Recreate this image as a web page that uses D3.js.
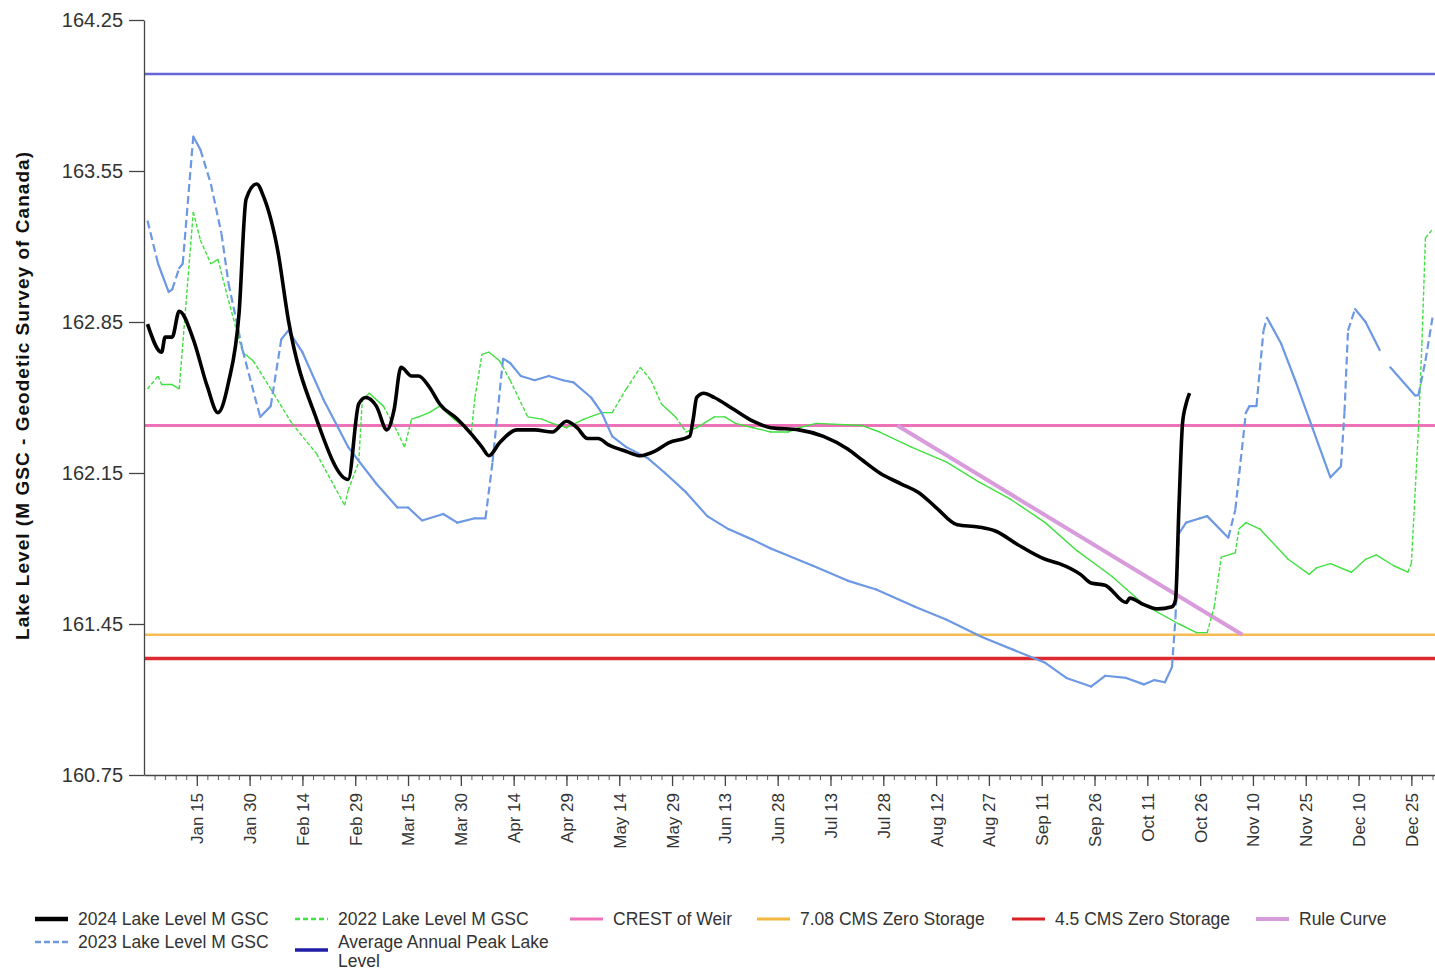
<!DOCTYPE html>
<html>
<head>
<meta charset="utf-8">
<script src="https://cdn.jsdelivr.net/npm/d3@7"></script>
<style>
    body { margin: 0; background: #fff; }
    svg { font-family: "Liberation Sans", Arial, sans-serif; display: block; }
</style>
</head>
<body>
<div id="chart"></div>
<script>
// lake levels, metres GSC (MM-DD, value)
const level2024 = [
    ["01-01",162.84],["01-05",162.71],["01-06",162.78],["01-08",162.78],["01-10",162.90],["01-14",162.77],
    ["01-18",162.55],["01-21",162.43],["01-24",162.57],["01-27",162.89],["01-29",163.42],["02-01",163.49],
    ["02-03",163.43],["02-07",163.18],["02-10",162.86],["02-18",162.40],["02-27",162.12],["03-01",162.47],
    ["03-03",162.50],["03-06",162.46],["03-09",162.35],["03-11",162.44],["03-13",162.64],["03-16",162.60],
    ["03-18",162.60],["03-21",162.55],["03-24",162.47],["03-29",162.40],["04-02",162.33],["04-05",162.27],
    ["04-07",162.23],["04-10",162.29],["04-15",162.35],["04-20",162.35],["04-25",162.34],["04-29",162.39],
    ["05-02",162.36],["05-05",162.31],["05-08",162.31],["05-11",162.28],["05-16",162.25],["05-20",162.23],
    ["05-24",162.25],["05-28",162.29],["06-03",162.32],["06-04",162.40],["06-05",162.50],["06-07",162.52],
    ["06-10",162.50],["06-15",162.45],["06-21",162.39],["06-26",162.36],["07-04",162.35],["07-11",162.32],
    ["07-18",162.26],["07-22",162.21],["07-27",162.15],["08-02",162.10],["08-07",162.06],["08-12",161.99],
    ["08-18",161.91],["08-24",161.90],["08-29",161.88],["09-04",161.82],["09-12",161.75],["09-16",161.73],
    ["09-22",161.68],["09-25",161.64],["09-29",161.63],["10-05",161.55],["10-06",161.57],["10-10",161.54],
    ["10-14",161.52],["10-18",161.53],["10-19",161.56],["10-20",162.00],["10-21",162.38],["10-22",162.47],
    ["10-23",162.52]
];

const level2023 = [
    ["01-01",163.32],["01-04",163.12],["01-07",162.99],["01-08",163.00],["01-10",163.10],["01-11",163.12],
    ["01-14",163.71],["01-16",163.65],["01-19",163.49],["01-22",163.26],["01-24",163.03],["01-28",162.72],
    ["02-02",162.41],["02-05",162.46],["02-08",162.77],["02-10",162.81],["02-14",162.71],["02-20",162.49],
    ["02-27",162.27],["03-06",162.10],["03-12",161.99],["03-15",161.99],["03-19",161.93],["03-25",161.96],
    ["03-29",161.92],["04-03",161.94],["04-06",161.94],["04-08",162.20],["04-11",162.68],["04-13",162.66],
    ["04-16",162.60],["04-20",162.58],["04-24",162.60],["04-28",162.58],["05-01",162.57],["05-06",162.50],
    ["05-09",162.43],["05-12",162.32],["05-16",162.27],["05-22",162.22],["05-27",162.15],["06-02",162.06],
    ["06-08",161.95],["06-14",161.89],["06-21",161.84],["06-26",161.80],["06-29",161.78],["07-08",161.72],
    ["07-18",161.65],["07-26",161.61],["08-06",161.53],["08-15",161.47],["08-25",161.39],["09-03",161.33],
    ["09-12",161.27],["09-18",161.20],["09-25",161.16],["09-29",161.21],["10-05",161.20],["10-10",161.17],
    ["10-13",161.19],["10-16",161.18],["10-18",161.25],["10-19",161.48],["10-20",161.87],["10-22",161.92],
    ["10-26",161.94],["10-28",161.95],["11-03",161.85],["11-05",161.98],["11-08",162.43],["11-09",162.46],
    ["11-11",162.46],["11-13",162.81],["11-14",162.87],["11-18",162.75],["11-22",162.58],["11-26",162.40],
    ["12-02",162.13],["12-05",162.18],["12-06",162.43],["12-07",162.81],["12-09",162.91],["12-12",162.85],
    ["12-16",162.72],["12-17",null],["12-19",162.64],["12-26",162.51],["12-27",162.51],["12-29",162.67],
    ["12-31",162.87]
];

const level2022 = [
    ["01-01",162.54],["01-04",162.60],["01-05",162.56],["01-08",162.56],["01-10",162.54],["01-14",163.36],
    ["01-16",163.23],["01-19",163.12],["01-21",163.14],["01-24",162.95],["01-28",162.71],["01-31",162.67],
    ["02-05",162.54],["02-11",162.38],["02-18",162.24],["02-26",162.00],["02-27",162.07],["03-01",162.20],
    ["03-02",162.49],["03-04",162.52],["03-08",162.46],["03-12",162.34],["03-14",162.27],["03-16",162.40],
    ["03-18",162.41],["03-21",162.43],["03-24",162.46],["03-28",162.40],["04-02",162.34],["04-03",162.50],
    ["04-05",162.70],["04-07",162.71],["04-10",162.67],["04-13",162.58],["04-18",162.41],["04-22",162.40],
    ["04-25",162.38],["04-29",162.36],["05-04",162.40],["05-09",162.43],["05-12",162.43],["05-16",162.54],
    ["05-20",162.64],["05-23",162.58],["05-26",162.47],["05-30",162.41],["06-02",162.34],["06-05",162.36],
    ["06-06",162.37],["06-10",162.41],["06-13",162.41],["06-16",162.38],["06-21",162.36],["06-26",162.34],
    ["07-01",162.34],["07-04",162.36],["07-09",162.38],["07-22",162.37],["07-27",162.34],["08-05",162.27],
    ["08-15",162.20],["08-24",162.11],["09-02",162.03],["09-12",161.92],["09-21",161.79],["10-01",161.67],
    ["10-10",161.54],["10-20",161.45],["10-25",161.41],["10-28",161.41],["10-30",161.53],["11-01",161.76],
    ["11-05",161.78],["11-06",161.89],["11-08",161.92],["11-12",161.89],["11-20",161.75],["11-26",161.68],
    ["11-28",161.71],["12-02",161.73],["12-08",161.69],["12-12",161.75],["12-15",161.77],["12-20",161.72],
    ["12-24",161.69],["12-25",161.73],["12-27",162.35],["12-28",162.75],["12-29",163.24],["12-31",163.28]
];

const ruleCurve = [["08-01",162.37],["11-07",161.40]];
const avgAnnualPeak = 164.00;
const crestOfWeir = 162.37;
const zeroStorage708 = 161.40;
const zeroStorage45 = 161.29;

const yTicks = [160.75, 161.45, 162.15, 162.85, 163.55, 164.25];
const xTickDates = ["01-15","01-30","02-14","02-29","03-15","03-30","04-14","04-29","05-14","05-29",
    "06-13","06-28","07-13","07-28","08-12","08-27","09-11","09-26","10-11","10-26","11-10","11-25",
    "12-10","12-25"];

const legendRows = [
    [
        { name: ["2024 Lake Level M GSC"], color: "#000", width: 4.5, dash: null, col: 0 },
        { name: ["2022 Lake Level M GSC"], color: "#3fe03f", width: 2.5, dash: "5,3", col: 1 },
        { name: ["CREST of Weir"], color: "#ee72b8", width: 3, dash: null, col: 2 },
        { name: ["7.08 CMS Zero Storage"], color: "#f3b640", width: 3, dash: null, col: 3 },
        { name: ["4.5 CMS Zero Storage"], color: "#d92128", width: 3, dash: null, col: 4 },
        { name: ["Rule Curve"], color: "#d89bdb", width: 4, dash: null, col: 5 }
    ],
    [
        { name: ["2023 Lake Level M GSC"], color: "#7098da", width: 2.5, dash: "6,3", col: 0 },
        { name: ["Average Annual Peak Lake", "Level"], color: "#1c1ca6", width: 3.5, dash: null, col: 1 }
    ]
];

const W = 1435, H = 971;
const parse = s => d3.timeParse("%Y-%m-%d")("2024-" + s);
const toPts = arr => arr.map(d => ({ date: parse(d[0]), v: d[1] }));

const svg = d3.select("#chart").append("svg")
    .attr("width", W).attr("height", H);

const x = d3.scaleTime()
    .domain([new Date(2023, 11, 31), new Date(2025, 0, 1)])
    .range([144, 1436]);
const y = d3.scaleLinear()
    .domain([160.75, 164.25])
    .range([775, 20]);

svg.append("defs").append("clipPath").attr("id", "plot")
    .append("rect").attr("x", 144).attr("y", 0).attr("width", W - 144).attr("height", 775);

const plot = svg.append("g").attr("clip-path", "url(#plot)");

// horizontal reference lines
const hline = (val, color, w) => plot.append("line")
    .attr("x1", x.range()[0] + 1).attr("x2", x.range()[1])
    .attr("y1", y(val)).attr("y2", y(val))
    .attr("stroke", color).attr("stroke-width", w);

hline(avgAnnualPeak, "#6565d8", 2.5);
hline(zeroStorage708, "#f6bd55", 2.5);
hline(zeroStorage45, "#dc2a30", 3.5);
hline(crestOfWeir, "#ee72b8", 3);

// rule curve
const lineGen = d3.line().x(d => x(d.date)).y(d => y(d.v));
plot.append("path")
    .datum(toPts(ruleCurve))
    .attr("d", lineGen)
    .attr("fill", "none")
    .attr("stroke", "#d89bdb")
    .attr("stroke-width", 4);

// dashed look of the old series: steep pieces dashed, flat pieces solid
function drawSegments(data, color, width, dash, steep) {
    const g = plot.append("g");
    for (let i = 1; i < data.length; i++) {
        const a = data[i - 1], b = data[i];
        if (a.v == null || b.v == null) continue;
        const x1 = x(a.date), y1 = y(a.v), x2 = x(b.date), y2 = y(b.v);
        const isSteep = Math.abs(y2 - y1) > steep * Math.abs(x2 - x1);
        g.append("line")
            .attr("x1", x1).attr("y1", y1).attr("x2", x2).attr("y2", y2)
            .attr("stroke", color)
            .attr("stroke-width", width)
            .attr("stroke-linecap", isSteep ? "butt" : "round")
            .attr("stroke-dasharray", isSteep ? dash : null);
    }
}

drawSegments(toPts(level2022), "#3fe03f", 1.4, "4,2", 1.2);
drawSegments(toPts(level2023), "#6d98e4", 2.2, "8,4", 3);

plot.append("path")
    .datum(toPts(level2024))
    .attr("d", lineGen.curve(d3.curveMonotoneX))
    .attr("fill", "none")
    .attr("stroke", "#000")
    .attr("stroke-width", 3.6)
    .attr("stroke-linejoin", "round");

// axes
const yAxis = svg.append("g")
    .attr("transform", "translate(144,0)")
    .call(d3.axisLeft(y).tickValues(yTicks).tickFormat(d3.format(".2f")).tickSize(15).tickSizeOuter(0));
yAxis.select(".domain").attr("stroke", "#444").attr("stroke-width", 1.3);
yAxis.selectAll(".tick line").attr("stroke", "#444").attr("stroke-width", 1.3);
yAxis.selectAll(".tick text")
    .attr("x", -21)
    .style("font-size", "20px")
    .style("fill", "#333")
    .style("font-family", "'Liberation Sans', Arial, sans-serif");

const minorTicks = d3.timeDay.range(parse("01-03"), new Date(2025, 0, 1), 3);
const xMinor = svg.append("g")
    .attr("transform", "translate(0,775)")
    .call(d3.axisBottom(x).tickValues(minorTicks).tickFormat("").tickSize(5).tickSizeOuter(0));
xMinor.select(".domain").attr("stroke", "#444").attr("stroke-width", 1.3);
xMinor.selectAll(".tick line").attr("stroke", "#555");

const xAxis = svg.append("g")
    .attr("transform", "translate(0,775)")
    .call(d3.axisBottom(x).tickValues(xTickDates.map(parse))
        .tickFormat(d3.timeFormat("%b %-d")).tickSize(11).tickSizeOuter(0));
xAxis.select(".domain").remove();
xAxis.selectAll(".tick line").attr("stroke", "#444").attr("stroke-width", 1.3);
xAxis.selectAll(".tick text")
    .attr("transform", "rotate(-90)")
    .attr("text-anchor", "end")
    .attr("x", -18)
    .attr("y", 0)
    .attr("dy", "0.35em")
    .style("font-size", "17px")
    .style("fill", "#333")
    .style("font-family", "'Liberation Sans', Arial, sans-serif");

// y title
svg.append("text")
    .attr("transform", "translate(29,396) rotate(-90)")
    .attr("text-anchor", "middle")
    .attr("textLength", 488)
    .attr("lengthAdjust", "spacing")
    .style("font-size", "19px")
    .style("font-weight", "bold")
    .style("fill", "#111")
    .text("Lake Level (M GSC - Geodetic Survey of Canada)");

// legend
const legendCols = [35, 295, 570, 757, 1012, 1256];
const legendY = [919, 942];
const legend = svg.append("g").attr("class", "legend");
legendRows.forEach((row, r) => {
    row.forEach(item => {
        const lx = legendCols[item.col];
        const ly = legendY[r];
        const swatchY = item.name.length > 1 ? ly + 8 : ly;
        legend.append("line")
            .attr("x1", lx).attr("x2", lx + 33)
            .attr("y1", swatchY).attr("y2", swatchY)
            .attr("stroke", item.color)
            .attr("stroke-width", item.width)
            .attr("stroke-dasharray", item.dash);
        item.name.forEach((t, k) => {
            legend.append("text")
                .attr("x", lx + 43)
                .attr("y", ly + k * 19)
                .attr("dy", "0.35em")
                .style("font-size", "17.5px")
                .style("fill", "#333")
                .text(t);
        });
    });
});
</script>
</body>
</html>
